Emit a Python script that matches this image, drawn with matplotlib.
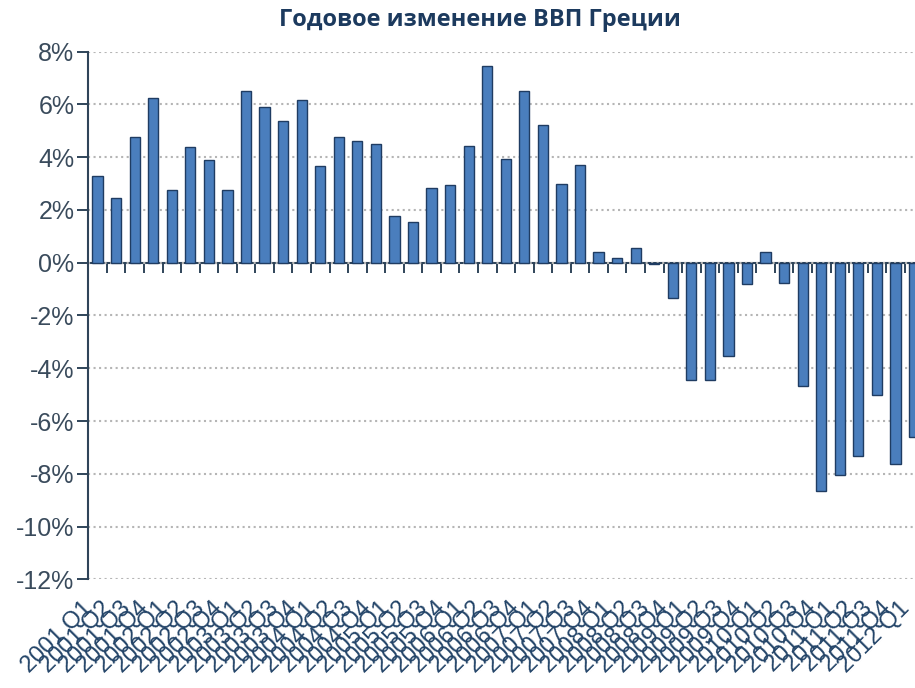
import matplotlib
matplotlib.use("Agg")
import matplotlib.pyplot as plt
import numpy as np

# quarterly GDP change, year over year, %
years = [2001, 2002, 2003, 2004, 2005, 2006, 2007, 2008, 2009, 2010, 2011, 2012]
quarters = ["Q1", "Q2", "Q3", "Q4"]
gdp_change = [
    3.27, 2.47, 4.78, 6.26,
    2.75, 4.40, 3.89, 2.76,
    6.50, 5.92, 5.39, 6.15,
    3.66, 4.75, 4.61, 4.49,
    1.76, 1.53, 2.84, 2.95,
    4.41, 7.45, 3.93, 6.50,
    5.22, 2.99, 3.71, 0.39,
    0.18, 0.56, -0.05, -1.34,
    -4.46, -4.43, -3.52, -0.81,
    0.39, -0.77, -4.68, -8.65,
    -8.04, -7.34, -5.01, -7.62,
    -6.60,
]
labels = [f"{y} {q}" for y in years for q in quarters][:len(gdp_change)]
y_ticks = [8, 6, 4, 2, 0, -2, -4, -6, -8, -10, -12]

bar_color = "#4a7ebd"
edge_color = "#1f3c62"
axis_color = "#2f4459"

plt.rcParams['font.family'] = ['Liberation Sans', 'DejaVu Sans']

fig = plt.figure(figsize=(9.15, 6.88), dpi=100)
# plot area runs past the right edge, last bar is cut
ax = fig.add_axes([0.0965, 0.158, 0.9126, 0.7669])

x = np.arange(len(gdp_change))
ax.bar(x, gdp_change, width=0.55, color=bar_color, edgecolor=edge_color,
       linewidth=1.0, zorder=3)

ax.set_xlim(-0.5, len(gdp_change) - 0.5)
ax.set_ylim(-12, 8)

ax.set_yticks(y_ticks)
ax.set_yticklabels([f"{t}%" for t in y_ticks])
ax.yaxis.grid(True, linestyle=":", color="#b5b5b5", linewidth=1.5, zorder=0)
ax.tick_params(axis="y", direction="out", length=8, width=1.4, pad=2,
               colors=axis_color, labelsize=18)
ax.tick_params(axis="y", labelcolor="#3a4b5c")

ax.set_xticks(x)
ax.set_xticklabels(labels, rotation=45, ha="right")
ax.tick_params(axis="x", length=0, pad=13, labelsize=17, labelcolor="#234468")

for side in ["top", "right", "bottom"]:
    ax.spines[side].set_visible(False)
ax.spines["left"].set_color(axis_color)
ax.spines["left"].set_linewidth(1.5)

# category axis sits on the zero line, ticks between bars
zero_frac = (0 - (-12)) / (8 - (-12))
zax = ax.secondary_xaxis(zero_frac)
zax.set_alignment("bottom")
zax.set_xticks(np.arange(len(gdp_change) + 1) - 0.5)
zax.tick_params(axis="x", direction="out", length=7, width=1.4,
                colors=axis_color, labelbottom=False, labeltop=False)
zax.spines["bottom"].set_color(axis_color)
zax.spines["bottom"].set_linewidth(1.5)
zax.spines["top"].set_visible(False)

fig.text(0.5246, 0.971, "Годовое изменение ВВП Греции", ha="center", va="center",
         fontsize=17, fontweight="bold", color="#1c3a5e", family="Open Sans")

fig.savefig("out.png", dpi=100)
